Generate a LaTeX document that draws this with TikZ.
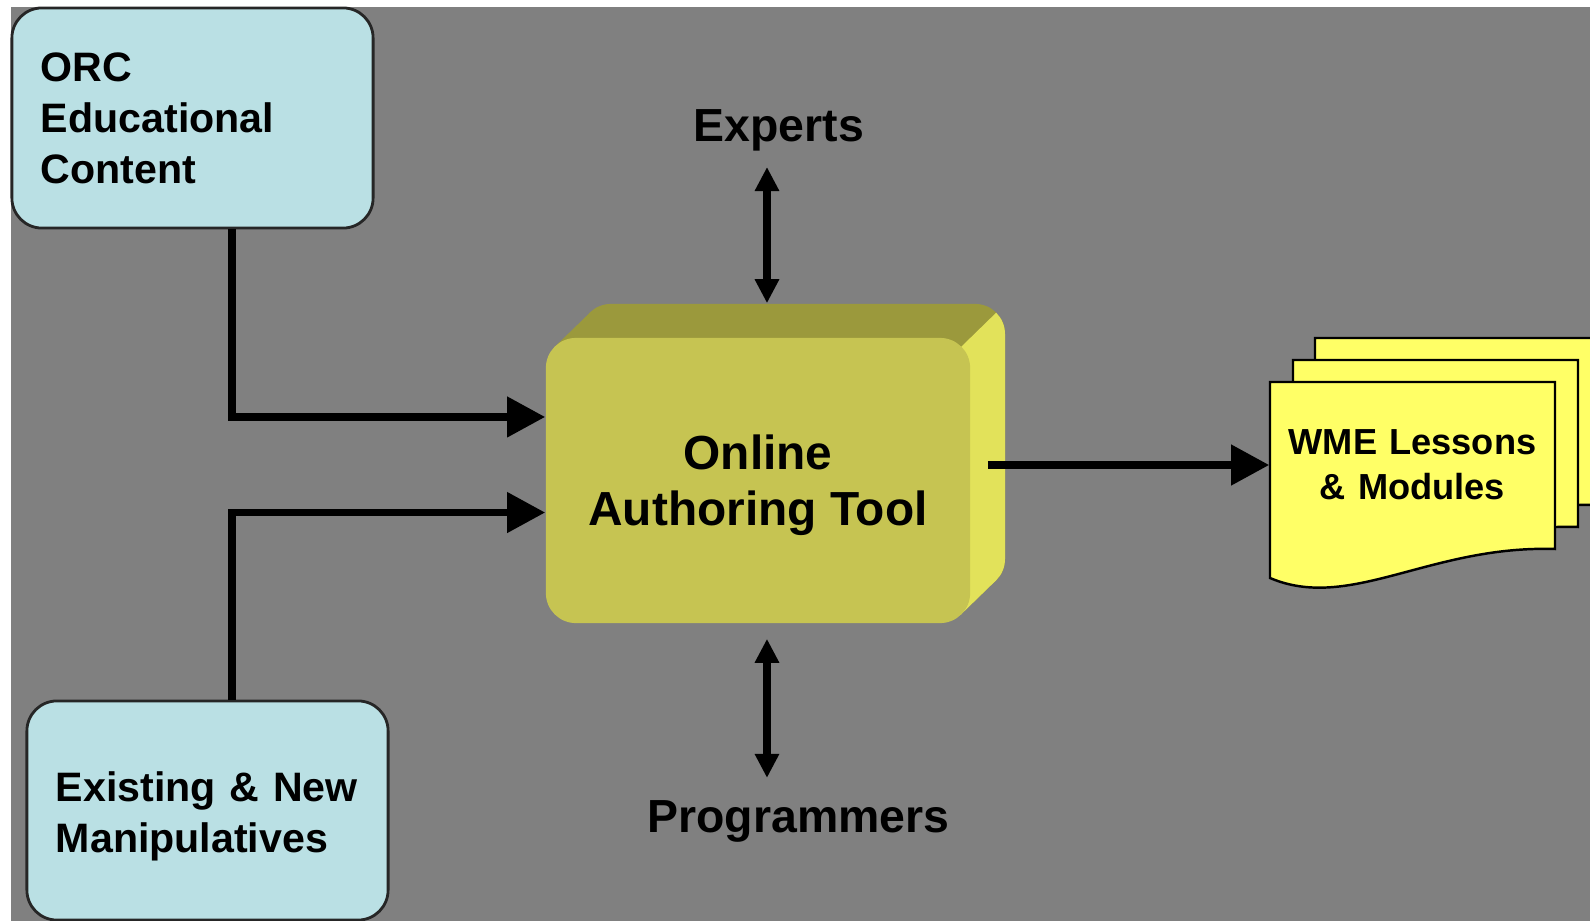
\documentclass[tikz,border=0pt]{standalone}
\usepackage{fontspec}
\setmainfont{Liberation Sans}
\usetikzlibrary{arrows.meta,positioning}

\definecolor{bggray}{RGB}{128,128,128}
\definecolor{orcblue}{RGB}{186,224,228}
\definecolor{toolfront}{RGB}{198,196,82}
\definecolor{tooltop}{RGB}{155,153,60}
\definecolor{toolside}{RGB}{226,226,90}
\definecolor{sheetyellow}{RGB}{255,255,102}

\tikzset{
  bluebox/.style={draw=black!85, line width=0.8pt, fill=orcblue, rounded corners=0.3cm,
    align=left, text width=3.03cm, inner xsep=0.29cm, minimum width=3.61cm,
    font=\fontsize{11.7}{14.5}\selectfont\bfseries},
  face/.style={fill=toolfront, rounded corners=0.3cm, minimum width=4.24cm, minimum height=2.85cm,
    align=center, font=\fontsize{13.6}{16}\selectfont\bfseries},
  role/.style={font=\fontsize{13.2}{16}\selectfont\bfseries},
  sheet/.style={draw=black, line width=0.7pt, fill=sheetyellow},
  flow/.style={line width=2.1pt, -{Triangle[length=0.38cm,width=0.39cm]}},
  dbl/.style={line width=2pt, {Triangle[length=0.24cm,width=0.23cm]}-{Triangle[length=0.24cm,width=0.23cm]}}
}

\begin{document}
\begin{tikzpicture}[x=0.01cm,y=-0.01cm]
\useasboundingbox (0,0) rectangle (1590,921);
\clip (0,0) rectangle (1590,921);

% Background
\fill[white] (0,0) rectangle (1590,921);
\fill[bggray] (11,7) rectangle (1590,921);

% Sources
\node[bluebox, minimum height=2.2cm] (orc) at (192.5,118) {ORC\\Educational\\Content};
\node[bluebox, minimum height=2.19cm] (exist) at (207.5,810.5) {\rule{0pt}{0.415cm}Existing \& New\\Manipulatives};

% Authoring tool (extruded box)
\node[rounded corners=0.3cm, minimum width=4.24cm, minimum height=2.85cm, fill=tooltop] (toolback) at (793,446.5) {};
\fill[tooltop] (554.8,346.8) -- (589.8,312.8) -- (996.2,580.2) -- (961.2,614.2) -- cycle;
\begin{scope}
  \clip (961.2,346.8) -- (1040,270) -- (1040,660) -- (961.2,660) -- cycle;
  \fill[toolside, rounded corners=0.3cm] (581,304) rectangle (1005,589);
  \fill[toolside] (554.8,346.8) -- (589.8,312.8) -- (996.2,580.2) -- (961.2,614.2) -- cycle;
  \fill[toolside, rounded corners=0.3cm] (546,338) rectangle (970,623);
\end{scope}
\node[face] (tool) at (758,480.5) {\rule{0pt}{0.44cm}Online\\Authoring Tool};

% Output sheets
\foreach \dx/\dy in {45/-44, 23/-22, 0/0}
  \draw[sheet, shift={(\dx,\dy)}] (1270,382) -- (1555,382) -- (1555,549)
    .. controls (1430,545) and (1350,612) .. (1270,578) -- cycle;
\node[align=center, text width=2.85cm, inner xsep=0pt,
  font=\fontsize{10.3}{12.8}\selectfont\bfseries] (wme) at (1412.5,465) {WME Lessons\\\& Modules};

% Roles
\node[role, inner sep=0.15cm] (experts) at (779,130.5) {Experts};
\node[role, inner sep=0.22cm] (prog) at (798.5,821.5) {Programmers};

% Connectors
\draw[flow] ([xshift=0.395cm]orc.south) |- ([yshift=0.635cm]tool.west);
\draw[flow] ([xshift=0.245cm]exist.north) |- ([yshift=-0.32cm]tool.west);
\draw[flow] ([xshift=0.17cm]tool.east |- wme.west) -- (wme.west);
\draw[dbl] ([xshift=-0.12cm]experts.south) -- ([xshift=-0.12cm]experts.south |- toolback.north);
\draw[dbl, shorten >=0.15cm] ([xshift=-0.315cm]prog.north) -- ([xshift=-0.315cm]prog.north |- tool.south);
\end{tikzpicture}
\end{document}
